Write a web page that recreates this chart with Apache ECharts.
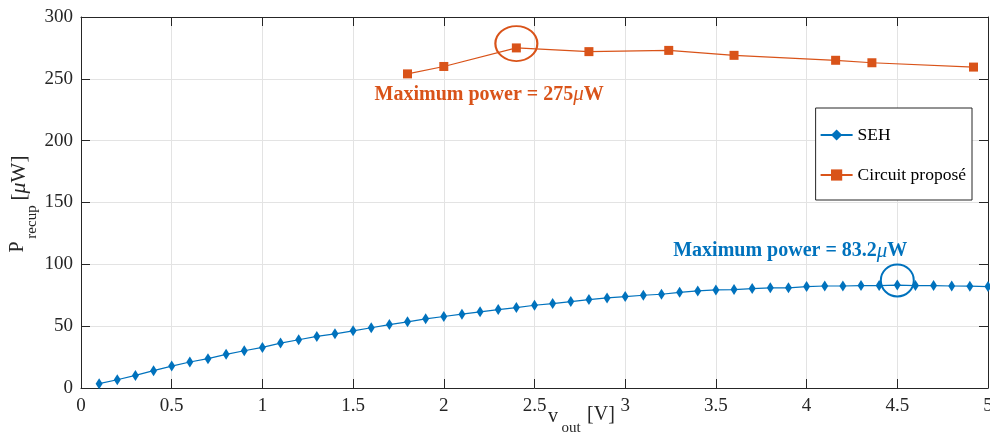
<!DOCTYPE html>
<html>
<head>
<meta charset="utf-8">
<script src="https://cdn.jsdelivr.net/npm/echarts@6/dist/echarts.min.js"></script>
<style>html,body{margin:0;padding:0;background:#fff}#c{width:990px;height:435px}</style>
</head>
<body>
<div id="c"></div>
<script>
// SEH measured curve
const sehX = [0.1,0.2,0.3,0.4,0.5,0.6,0.7,0.8,0.9,1.0,1.1,1.2,1.3,1.4,1.5,1.6,1.7,1.8,1.9,2.0,2.1,2.2,2.3,2.4,2.5,2.6,2.7,2.8,2.9,3.0,3.1,3.2,3.3,3.4,3.5,3.6,3.7,3.8,3.9,4.0,4.1,4.2,4.3,4.4,4.5,4.6,4.7,4.8,4.9,5.0];
const sehY = [3.5,6.7,10.2,14.0,17.7,21.0,23.7,27.2,30.1,32.8,36.3,39.0,41.7,43.8,46.2,48.7,51.3,53.5,55.9,57.8,59.7,61.6,63.4,65.0,66.9,68.3,69.9,71.5,72.8,73.9,75.0,75.8,77.4,78.5,79.3,79.6,80.4,81.0,81.0,82.0,82.5,82.5,82.8,82.8,83.2,82.8,82.8,82.5,82.3,82.0];
// Proposed circuit
const circX = [1.8,2.0,2.4,2.8,3.24,3.6,4.16,4.36,4.92];
const circY = [254,260,275,272,273,269,265,263,259.5];
const xTicks = {min:0, max:5, step:0.5};
const yTicks = {min:0, max:300, step:50};
const seriesNames = ['SEH','Circuit proposé'];
const annotSEH = {x:3.91, y:110.7, text:'Maximum power = 83.2', circle:[4.5, 87]};
const annotCirc = {x:2.25, y:237.3, text:'Maximum power = 275', circle:[2.4, 278.5]};

const BLUE = '#0072BD', ORANGE = '#D95319', AX = '#262626';
const FONT = 'Liberation Serif';

const chart = echarts.init(document.getElementById('c'), null, {renderer:'canvas'});
const zip = (xs, ys) => xs.map((x,i)=>[x, ys[i]]);

function axisBase(){
  return {
    axisLine:{show:true, onZero:false, lineStyle:{color:AX, width:1}},
    axisTick:{show:true, inside:true, length:9, lineStyle:{color:AX, width:1}},
  };
}

function annotLabel(a, color){
  return {
    coord:[a.x, a.y], symbol:'circle', symbolSize:0,
    label:{show:true, position:'inside', formatter: a.text + '{mu|μ}W',
      color:color, fontFamily:FONT, fontWeight:'bold', fontSize:20,
      rich:{mu:{fontStyle:'italic', fontWeight:'normal', fontFamily:FONT, fontSize:21, color:color}}}
  };
}
function annotCircle(a, color, size){
  return {
    coord:a.circle, symbol:'circle', symbolSize:size,
    itemStyle:{color:'rgba(0,0,0,0)', borderColor:color, borderWidth:2},
    label:{show:false}
  };
}

chart.setOption({
  animation:false,
  backgroundColor:'#fff',
  textStyle:{fontFamily:FONT},
  grid:{left:81, right:2, top:17, bottom:47, containLabel:false, outerBoundsMode:'none'},
  legend:{
    orient:'vertical', right:18, top:108,
    data:seriesNames,
    backgroundColor:'#fff', borderColor:AX, borderWidth:1,
    padding:[18, 6, 16, 4], itemGap:22, itemWidth:32, itemHeight:14,
    textStyle:{fontFamily:FONT, fontSize:17.5, color:'#000'}
  },
  xAxis:[
    Object.assign({type:'value', min:xTicks.min, max:xTicks.max, interval:xTicks.step, position:'bottom',
      axisLabel:{color:AX, fontFamily:FONT, fontSize:19, margin:9, showMaxLabel:true},
      splitLine:{show:true, lineStyle:{color:'#e3e3e3', width:1}}}, axisBase()),
    Object.assign({type:'value', min:xTicks.min, max:xTicks.max, interval:xTicks.step, position:'top',
      axisLabel:{show:false}, splitLine:{show:false}}, axisBase())
  ],
  yAxis:[
    Object.assign({type:'value', min:yTicks.min, max:yTicks.max, interval:yTicks.step, position:'left',
      axisLabel:{color:AX, fontFamily:FONT, fontSize:19, margin:8},
      splitLine:{show:true, lineStyle:{color:'#e3e3e3', width:1}}}, axisBase()),
    Object.assign({type:'value', min:yTicks.min, max:yTicks.max, interval:yTicks.step, position:'right',
      axisLabel:{show:false}, splitLine:{show:false}}, axisBase())
  ],
  series:[
    {name:seriesNames[0], type:'line', data:zip(sehX, sehY), color:BLUE,
      symbol:'diamond', symbolSize:[7,11], showAllSymbol:true,
      lineStyle:{width:1.2, color:BLUE}, itemStyle:{color:BLUE},
      markPoint:{silent:true, data:[annotLabel(annotSEH, BLUE), annotCircle(annotSEH, BLUE, [33,32])]}
    },
    {name:seriesNames[1], type:'line', data:zip(circX, circY), color:ORANGE,
      symbol:'rect', symbolSize:9,
      lineStyle:{width:1.2, color:ORANGE}, itemStyle:{color:ORANGE},
      markPoint:{silent:true, data:[annotLabel(annotCirc, ORANGE), annotCircle(annotCirc, ORANGE, [42,35])]}
    }
  ],
  graphic:[
    {type:'text', x:18, y:247, rotation:Math.PI/2, style:{text:'P', font:'20px "Liberation Serif"', fill:AX, textAlign:'center', textVerticalAlign:'middle'}},
    {type:'text', x:32, y:222, rotation:Math.PI/2, style:{text:'recup', font:'15px "Liberation Serif"', fill:AX, textAlign:'center', textVerticalAlign:'middle'}},
    {type:'text', x:19, y:178, rotation:Math.PI/2, style:{text:'[{mu|μ}W]', font:'21px "Liberation Serif"', fill:AX, textAlign:'center', textVerticalAlign:'middle',
      rich:{mu:{fontStyle:'italic', fontSize:22, fontFamily:FONT, fill:AX}}}},
    {type:'text', x:553, y:417, style:{text:'v', font:'20px "Liberation Serif"', fill:AX, textAlign:'center', textVerticalAlign:'middle'}},
    {type:'text', x:571, y:428, style:{text:'out', font:'15px "Liberation Serif"', fill:AX, textAlign:'center', textVerticalAlign:'middle'}},
    {type:'text', x:601, y:415, style:{text:'[V]', font:'20px "Liberation Serif"', fill:AX, textAlign:'center', textVerticalAlign:'middle'}}
  ]
});
</script>
</body>
</html>
